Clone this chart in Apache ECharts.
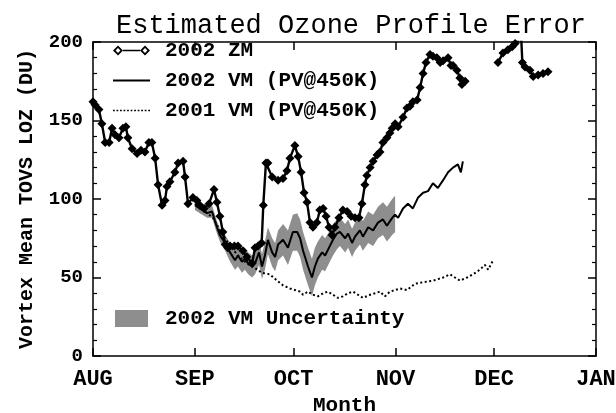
<!DOCTYPE html>
<html>
<head>
<meta charset="utf-8">
<script src="https://cdn.jsdelivr.net/npm/echarts@6/dist/echarts.min.js"></script>
<style>
  html, body { margin: 0; padding: 0; background: #fff; }
  #chart { width: 616px; height: 413px; }
</style>
</head>
<body>
<div id="chart"></div>
<script>
// x values are days since 1 August
var monthTicks = [0, 31, 61, 92, 122, 153];
var monthLabels = ['AUG', 'SEP', 'OCT', 'NOV', 'DEC', 'JAN'];

// 2002 zonal mean, [day, DU]; '-' marks the gap in late November
var zm2002 = [[0,162],[0.6,160],[1.8,157],[2.7,148],[3.7,136],[4.9,136],[5.8,145],[6.7,141],[7.9,139],
  [9.1,145],[10,146],[10.6,139],[11.9,132],[13.4,129],[14.6,131],[15.8,130],[17,136],[17.9,136],
  [18.9,126],[19.8,109],[21,96],[21.9,99],[22.5,108],[23.4,111],[24.9,117],[25.9,123],[27.4,124],
  [28,114],[28.9,97],[30.4,101],[31.6,99],[32.5,96],[33.8,94],[35.3,97],[36.8,106],[37.7,98],
  [38.6,89],[39.5,79],[40.2,71],[41,69],[41.7,70],[43,70],[44.1,70],[45.6,67],[46.8,63],[48.4,59],
  [49.3,69],[50.2,70],[51.3,72],[51.8,96],[52.6,123],[53.2,123],[54.5,114],[56.3,112],[57.8,113],
  [59,118],[59.9,126],[61.4,134],[62.4,127],[63.3,117],[64.2,104],[65.1,98],[66,85],[66.9,82],
  [68.1,85],[69,93],[70,94],[70.9,89],[71.8,82],[72.7,77],[73.6,82],[74.8,88],[76,93],[77.3,92],
  [78.5,89],[79.7,88],[80.9,88],[81.8,97],[82.7,109],[83.3,115],[84.3,120],[85.2,124],[86.4,128],
  [87.3,130],[88.2,136],[89.4,139],[90.3,142],[91,145],[91.9,148],[92.8,146],[94.3,152],[95.5,158],
  [96.4,159],[97.3,162],[98.6,163],[99.5,171],[100.4,180],[101.3,187],[102.5,192],[103.4,191],
  [104.6,190],[105.6,187],[106.5,188],[108,190],[108.9,185],[109.5,185],[110.7,182],[111.6,177],
  [112.2,173],[113.2,175],[118,'-'],[123.2,187],[124.7,193],[126.2,195],[127.5,197],[128.4,199],
  [129.3,201],[130,214],[130.6,187],[131.4,184],[132.9,182],[133.9,178],[135.4,179],[136.9,180],
  [138.4,181]];

// 2002 vortex mean (PV@450K), [day, DU]
var vm2002 = [[31,96],[32.5,94],[34.7,91],[36.2,92],[37.7,82],[38.6,77],[40.2,72],[41.7,66],[43.2,61],
  [44.1,64],[45.3,60],[46.2,62],[47.2,59],[48.4,57],[49.3,59],[50.5,66],[51.4,57],[52.3,64],[53.2,74],
  [54.5,66],[55.4,63],[56.3,71],[57.8,74],[59.3,69],[60.8,79],[62.1,79],[63,75],[63.9,67],[65.4,57],
  [66.6,50],[67.5,57],[68.4,62],[69.7,66],[70.6,64],[71.8,69],[73,74],[74.2,78],[75.1,79],[76.7,75],
  [77.6,78],[78.8,72],[79.7,76],[81.2,80],[82.1,76],[83.7,82],[85.2,80],[86.7,85],[88.2,87],[89.4,83],
  [91,88],[91.9,90],[92.8,88],[94.3,94],[95.8,97],[97.3,94],[98.9,101],[100.4,104],[101.9,105],
  [103.4,110],[104.9,107],[106.5,112],[108,117],[109.5,120],[111,122],[111.9,117],[112.5,124]];

// 2002 vortex mean uncertainty, [day, low, high]
var vmBand = [[31,93,99],[32.5,91,97],[34.7,88,95],[36.2,88,96],[37.7,78,86],[38.6,73,81],[40.2,67,77],
  [41.7,60,72],[43.2,55,68],[44.1,57,71],[45.3,53,67],[46.2,55,69],[47.2,52,66],[48.4,50,64],
  [49.3,52,66],[50.5,58,74],[51.4,49,65],[52.3,55,73],[53.2,65,82],[54.5,57,75],[55.4,54,72],
  [56.3,61,80],[57.8,64,84],[59.3,58,80],[60.8,67,90],[62.1,67,91],[63,63,87],[63.9,55,79],
  [65.4,45,69],[66.6,38,62],[67.5,45,69],[68.4,50,73],[69.7,55,77],[70.6,54,75],[71.8,59,79],
  [73,64,84],[74.2,68,87],[75.1,70,88],[76.7,66,84],[77.6,69,87],[78.8,63,81],[79.7,67,85],
  [81.2,71,89],[82.1,67,86],[83.7,72,92],[85.2,70,90],[86.7,75,95],[88.2,77,98],[89.4,73,95],
  [91,77,100],[91.9,79,102]];

// 2001 vortex mean (PV@450K), [day, DU]
var vm2001 = [[31,97],[34.1,92],[36.5,88],[38.6,80],[41.7,70],[44.1,64],[46.8,59],[49.3,56],[51.4,53],
  [53.8,52],[56,48],[57.8,45],[59.9,43],[63,41],[63.9,39],[65.4,41],[66.9,39],[68.4,38],[70,40],
  [71.5,41],[73,39],[74.5,37],[76,38],[77.6,40],[79.1,41],[80.6,39],[82.1,37],[84.3,39],[85.8,40],
  [87.3,41],[88.8,38],[90.3,41],[91.9,42],[93.4,43],[95.5,42],[97.9,46],[100.4,47],[103.4,48],
  [106.5,50],[108.6,52],[110.1,50],[111.6,48],[113.8,50],[115.6,52],[117.7,55],[119.2,58],
  [120.2,55],[121.7,61]];

var chart = echarts.init(document.getElementById('chart'));

var font = 'Liberation Mono';
var black = '#000';
var bandColor = '#8e8e8e';

// legend icons: line with open diamonds at the ends, plain line, dotted line
var diamondIcon = 'path://M0 5L5 0L10 5L5 10Z M2.6 5L5 7.4L7.4 5L5 2.6Z' +
  'M10 4.2L27 4.2L27 5.8L10 5.8Z' +
  'M27 5L32 0L37 5L32 10Z M29.6 5L32 7.4L34.4 5L32 2.6Z';
var solidIcon = 'path://M0 4.1L37 4.1L37 5.9L0 5.9Z';
var dotIcon = 'path://';
for (var dx = 0; dx < 36; dx += 3.4) {
  dotIcon += 'M' + dx + ' 4.2L' + (dx + 1.7) + ' 4.2L' + (dx + 1.7) + ' 5.8L' + dx + ' 5.8Z';
}

function xAxisCfg(pos, showLabels) {
  return {
    type: 'value', min: 0, max: 153, position: pos,
    axisLine: { onZero: false, lineStyle: { color: black, width: 1.5 } },
    axisTick: { inside: true, length: 8, customValues: monthTicks, lineStyle: { color: black, width: 1.5 } },
    axisLabel: {
      show: showLabels, customValues: monthTicks, margin: 12,
      showMinLabel: true, showMaxLabel: true,
      color: black, fontFamily: font, fontWeight: 'bold', fontSize: 22,
      formatter: function (v) { return monthLabels[monthTicks.indexOf(v)]; }
    },
    splitLine: { show: false }
  };
}

function yAxisCfg(pos, showLabels) {
  return {
    type: 'value', min: 0, max: 200, interval: 50, position: pos,
    axisLine: { show: true, onZero: false, lineStyle: { color: black, width: 1.5 } },
    axisTick: { show: true, inside: true, length: 8, lineStyle: { color: black, width: 1.5 } },
    minorTick: { show: true, splitNumber: 5, length: 4, lineStyle: { color: black, width: 1.2 } },
    axisLabel: { show: showLabels, margin: 10, color: black, fontFamily: font, fontWeight: 'bold', fontSize: 19 },
    splitLine: { show: false }
  };
}

var xBottom = xAxisCfg('bottom', true);
xBottom.name = 'Month';
xBottom.nameLocation = 'middle';
xBottom.nameGap = 36;
xBottom.nameTextStyle = { color: black, fontFamily: font, fontWeight: 'bold', fontSize: 21 };

var yLeft = yAxisCfg('left', true);
yLeft.name = 'Vortex Mean TOVS LOZ (DU)';
yLeft.nameLocation = 'middle';
yLeft.nameGap = 56;
yLeft.nameTextStyle = { color: black, fontFamily: font, fontWeight: 'bold', fontSize: 20 };

var legendText = { color: black, fontFamily: font, fontWeight: 'bold', fontSize: 21, lineHeight: 21 };

option = {
  animation: false,
  backgroundColor: '#fff',
  title: {
    text: 'Estimated Ozone Profile Error',
    left: 111, top: 7,
    textStyle: { color: black, fontFamily: font, fontWeight: 'normal', fontSize: 27 }
  },
  grid: { left: 93, right: 20, top: 42, bottom: 57, containLabel: false, outerBoundsMode: 'none' },
  legend: [{
    orient: 'vertical', left: 113, top: 40, itemGap: 9, padding: 0,
    itemWidth: 37, itemHeight: 10, selectedMode: false,
    textStyle: Object.assign({ padding: [0, 0, 0, 10] }, legendText),
    data: [
      { name: '2002 ZM', icon: diamondIcon },
      { name: '2002 VM (PV@450K)', icon: solidIcon },
      { name: '2001 VM (PV@450K)', icon: dotIcon }
    ]
  }, {
    left: 115, top: 308, itemWidth: 33, itemHeight: 17, selectedMode: false, padding: 0,
    textStyle: Object.assign({ padding: [0, 0, 0, 12] }, legendText),
    data: [{ name: '2002 VM Uncertainty', icon: 'rect' }]
  }],
  xAxis: [xBottom, xAxisCfg('top', false)],
  yAxis: [yLeft, yAxisCfg('right', false)],
  series: [{
    name: '2002 VM Uncertainty',
    type: 'custom',
    clip: true,
    z: 1,
    itemStyle: { color: bandColor },
    data: [[0, 0]],
    renderItem: function (params, api) {
      var pts = [];
      vmBand.forEach(function (p) { pts.push(api.coord([p[0], p[2]])); });
      for (var i = vmBand.length - 1; i >= 0; i--) pts.push(api.coord([vmBand[i][0], vmBand[i][1]]));
      return { type: 'polygon', shape: { points: pts }, style: { fill: bandColor } };
    }
  }, {
    name: '2001 VM (PV@450K)',
    type: 'line',
    z: 2,
    data: vm2001,
    symbol: 'none',
    itemStyle: { color: black },
    lineStyle: { color: black, width: 2, type: [2, 2.5] }
  }, {
    name: '2002 VM (PV@450K)',
    type: 'line',
    z: 3,
    data: vm2002,
    symbol: 'none',
    itemStyle: { color: black },
    lineStyle: { color: black, width: 2 }
  }, {
    name: '2002 ZM',
    type: 'line',
    z: 4,
    data: zm2002,
    connectNulls: false,
    symbol: 'diamond',
    symbolSize: 9,
    itemStyle: { color: black },
    lineStyle: { color: black, width: 2.4 }
  }]
};

chart.setOption(option);
</script>
</body>
</html>
